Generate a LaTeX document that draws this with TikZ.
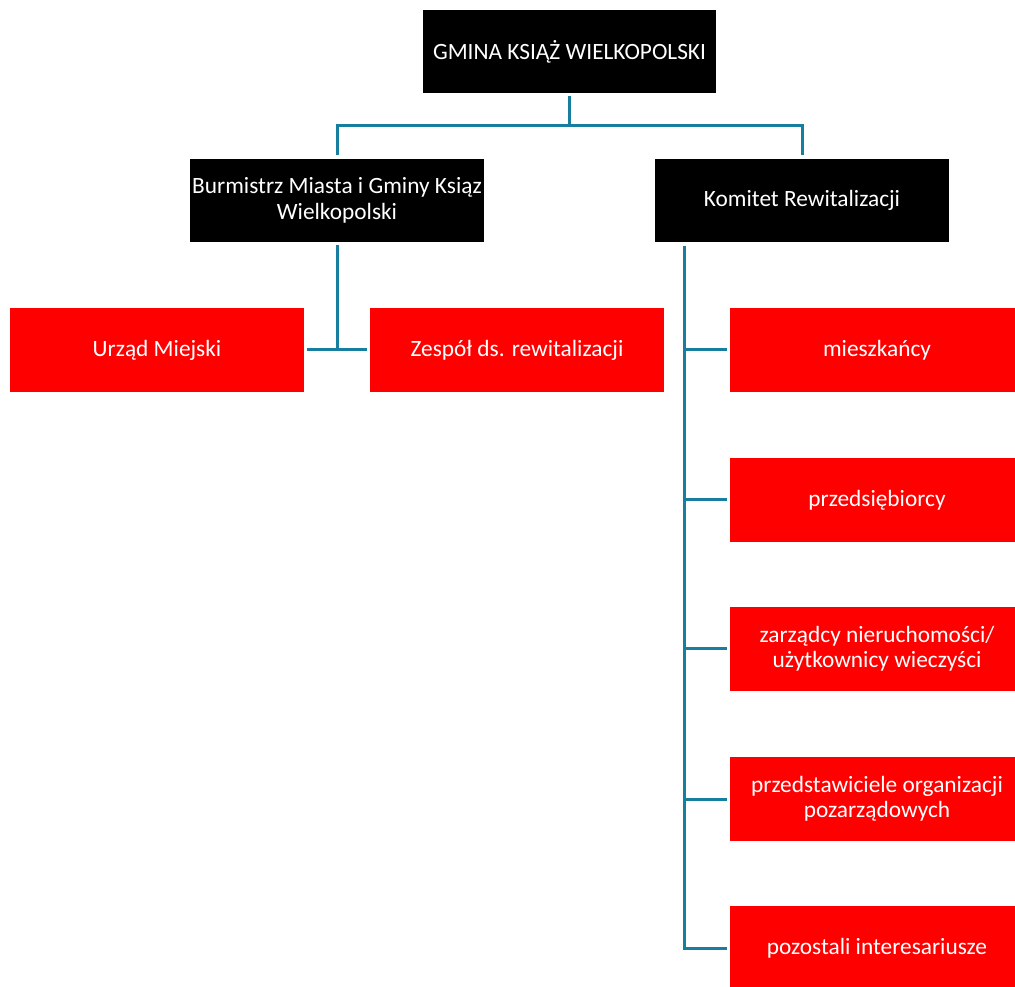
\documentclass[tikz,border=0pt]{standalone}
\usepackage{fontspec}
\setmainfont{Carlito}
\definecolor{linkblue}{RGB}{24,126,160}

\tikzset{every picture/.style={line width=0.75pt}}
\tikzset{
  headbox/.style={fill=black, text=white, minimum width=220pt, minimum height=62.5pt,
    align=center, inner sep=1pt, outer sep=2.5pt, font=\fontsize{17.5}{19}\selectfont},
  unitbox/.style={headbox, fill=red},
  link/.style={draw=linkblue, line width=2.25pt}
}

\begin{document}
\begin{tikzpicture}[x=0.75pt,y=0.75pt,yscale=-1,xscale=1]
\useasboundingbox (0,0) rectangle (1015,987);

% Top level
\node [headbox] (gmina) at (569.5,51.5) {GMINA KSIĄŻ WIELKOPOLSKI};
% Second level
\node [headbox] (burm) at (337,200.5) {Burmistrz Miasta i Gminy Ksiąz\\Wielkopolski};
\node [headbox] (komitet) at (802,200.5) {Komitet Rewitalizacji};
% Units under Burmistrz
\node [unitbox] (urzad) at (157,350) {Urząd Miejski};
\node [unitbox] (zespol) at (517,350) {Zespół ds. rewitalizacji};
% Members of Komitet
\node [unitbox] (mieszk) at (877,350) {mieszkańcy};
\node [unitbox] (przeds) at (877,500) {przedsiębiorcy};
\node [unitbox] (zarzad) at (877,649) {zarządcy nieruchomości/\\użytkownicy wieczyści};
\node [unitbox] (organ) at (877,799) {przedstawiciele organizacji\\pozarządowych};
\node [unitbox] (inter) at (877,948) {pozostali interesariusze};

% Connectors
\coordinate (fork) at (569.5,126);
\draw [link] (gmina.south) -- (fork);
\draw [link] (burm.north) |- (fork) -| (komitet.north);
\draw [link] (burm.south) -- (burm.south |- urzad.east);
\draw [link] (urzad.east) -- (zespol.west);

\coordinate (spine) at (684,246);
\draw [link] (spine) |- (inter.west);
\foreach \m in {mieszk,przeds,zarzad,organ}
  \draw [link] (spine |- \m.west) -- (\m.west);

\end{tikzpicture}
\end{document}
